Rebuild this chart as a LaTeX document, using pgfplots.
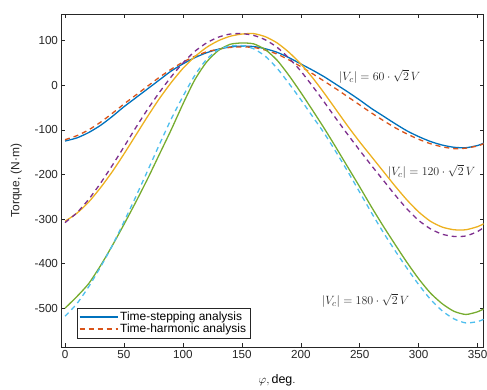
\documentclass[border=0pt]{standalone}
\usepackage{fontspec}
\setmainfont{Liberation Sans}
\usepackage{pgfplots}
\pgfplotsset{compat=1.18}
\definecolor{mb}{rgb}{0,0.447,0.741}
\definecolor{mo}{rgb}{0.85,0.325,0.098}
\definecolor{my}{rgb}{0.929,0.694,0.125}
\definecolor{mp}{rgb}{0.494,0.184,0.556}
\definecolor{mg}{rgb}{0.466,0.674,0.188}
\definecolor{mc}{rgb}{0.301,0.745,0.933}
\definecolor{ax}{rgb}{0.15,0.15,0.15}
\begin{document}
\begin{tikzpicture}
\begin{axis}[
  name=ax,
  scale only axis,
  width=422bp, height=333bp,
  xmin=-3, xmax=355, ymin=-587, ymax=160,
  xtick={0,50,...,350}, ytick={-500,-400,...,100},
  tick align=inside,
  major tick length=4bp,
  axis line style={ax, line width=0.5bp},
  every tick/.style={ax, line width=0.5bp},
  tick label style={font=\fontsize{11.7}{14}\selectfont, text=ax},
  /pgf/number format/assume math mode=true,
  /pgf/number format/1000 sep={},
  xlabel={$\varphi, \mathrm{deg.}$},
  ylabel={Torque, (N·m)},
  xlabel style={at={(rel axis cs:0.511,-0.099)}, anchor=center, font=\fontsize{12.5}{14}\selectfont},
  ylabel style={at={(rel axis cs:-0.107,0.5)}, anchor=center, font=\fontsize{12}{14}\selectfont, text=ax},
  legend style={at={(rel axis cs:0.036,0.026)}, anchor=south west, font=\fontsize{12}{14}\selectfont, draw=ax, line width=0.5bp, inner sep=2bp, row sep=-2bp, cells={anchor=west}},
  legend cell align=left,
  legend image post style={line width=1.3bp},
  legend image code/.code={\draw[#1] (0bp,0bp) -- (38bp,0bp);},
  every axis plot/.append style={line width=1.3bp, smooth, tension=0.4},
  clip=true,
]
\addplot[mb] coordinates {(0,-125) (10,-118) (20,-106) (30,-90) (40,-70) (50,-48) (60,-28) (70,-8) (80,12) (90,32) (100,48) (110,62) (120,73) (130,81) (140,86) (150,88) (160,87) (170,82) (180,74) (190,62) (200,48) (210,34) (220,19) (230,2) (240,-15) (250,-33) (260,-52) (270,-69) (280,-86) (290,-102) (300,-115) (310,-126) (320,-134) (330,-139) (340,-140) (350,-135) (355,-130) (360,-126)};
\addlegendentry{Time-stepping analysis}
\addplot[mo, dash pattern=on 5bp off 4bp] coordinates {(0,-122) (10,-113) (20,-100) (30,-83) (40,-63) (50,-42) (60,-22) (70,-2) (80,18) (90,36) (100,52) (110,65) (120,75) (130,81) (140,85) (150,86) (160,85) (170,79) (180,70) (190,57) (200,42) (210,26) (220,9) (230,-8) (240,-26) (250,-44) (260,-62) (270,-79) (280,-95) (290,-109) (300,-121) (310,-131) (320,-138) (330,-142) (340,-141) (350,-136) (355,-131) (360,-123)};
\addlegendentry{Time-harmonic analysis}
\addplot[my] coordinates {(0,-305) (10,-287) (20,-262) (30,-230) (40,-194) (50,-154) (60,-112) (70,-70) (80,-30) (90,6) (100,38) (110,64) (120,85) (130,100) (140,110) (150,115) (160,116) (170,109) (180,95) (190,74) (200,48) (210,17) (220,-18) (230,-55) (240,-92) (250,-127) (260,-160) (270,-193) (280,-226) (290,-257) (300,-284) (310,-305) (320,-318) (330,-324) (340,-324) (350,-317) (355,-311) (360,-306)};
\addplot[mp, dash pattern=on 5bp off 4bp] coordinates {(0,-308) (10,-286) (20,-256) (30,-220) (40,-180) (50,-138) (60,-95) (70,-54) (80,-16) (90,19) (100,50) (110,76) (120,95) (130,108) (140,115) (150,116) (160,112) (170,102) (180,85) (190,61) (200,32) (210,-2) (220,-38) (230,-75) (240,-111) (250,-146) (260,-180) (270,-213) (280,-246) (290,-277) (300,-303) (310,-322) (320,-334) (330,-339) (340,-338) (350,-328) (355,-319) (360,-309)};
\addplot[mg] coordinates {(0,-500) (10,-474) (20,-445) (30,-405) (40,-360) (50,-312) (60,-262) (70,-210) (80,-155) (90,-100) (100,-42) (110,12) (120,52) (130,78) (140,92) (150,95) (160,93) (170,80) (180,56) (190,22) (200,-16) (210,-56) (220,-97) (230,-140) (240,-184) (250,-228) (260,-273) (270,-316) (280,-357) (290,-397) (300,-434) (310,-466) (320,-490) (330,-507) (340,-514) (350,-508) (355,-502) (360,-500)};
\addplot[mc, dash pattern=on 5bp off 4bp] coordinates {(0,-518) (10,-490) (20,-452) (30,-408) (40,-360) (50,-306) (60,-250) (70,-192) (80,-133) (90,-76) (100,-25) (110,22) (120,58) (130,80) (140,88) (150,89) (160,82) (170,65) (180,38) (190,4) (200,-32) (210,-70) (220,-108) (230,-150) (240,-194) (250,-240) (260,-286) (270,-330) (280,-371) (290,-410) (300,-447) (310,-480) (320,-506) (330,-524) (340,-533) (350,-530) (355,-525) (360,-518)};
\node[font=\fontsize{12.5}{14}\selectfont, text=ax] at (axis cs:267,20) {$|V_c| = 60\cdot\sqrt{2}\,V$};
\node[font=\fontsize{12.5}{14}\selectfont, text=ax] at (axis cs:311,-193) {$|V_c| = 120\cdot\sqrt{2}\,V$};
\node[font=\fontsize{12.5}{14}\selectfont, text=ax] at (axis cs:255,-483) {$|V_c| = 180\cdot\sqrt{2}\,V$};
\end{axis}
\pgfresetboundingbox
\path[use as bounding box] ([shift={(-61.5bp,-43bp)}]ax.south west) rectangle ([shift={(3.5bp,14bp)}]ax.north east);
\end{tikzpicture}
\end{document}
